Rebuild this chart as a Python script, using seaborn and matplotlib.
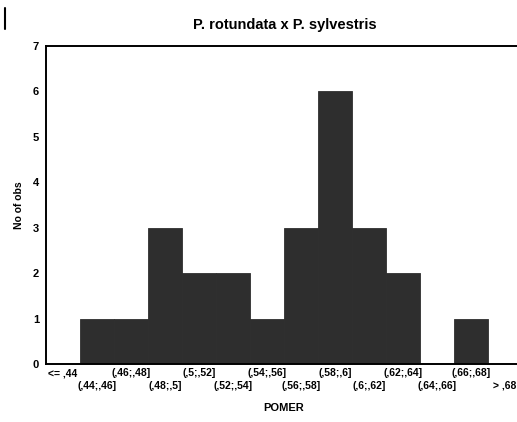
import matplotlib
matplotlib.use("Agg")
import matplotlib.pyplot as plt
import seaborn as sns
import pandas as pd

categories = ["<= ,44", "(,44;,46]", "(,46;,48]", "(,48;,5]", "(,5;,52]", "(,52;,54]",
              "(,54;,56]", "(,56;,58]", "(,58;,6]", "(,6;,62]", "(,62;,64]", "(,64;,66]",
              "(,66;,68]", "> ,68"]
counts = [0, 1, 1, 3, 2, 2, 1, 3, 6, 3, 2, 0, 1, 0]
y_ticks = [0, 1, 2, 3, 4, 5, 6, 7]

sns.set_theme(style="white")
font = ["Liberation Sans Narrow", "Liberation Sans", "DejaVu Sans"]
plt.rcParams["font.family"] = font
plt.rcParams["text.color"] = "black"
plt.rcParams["axes.labelcolor"] = "black"
plt.rcParams["xtick.color"] = "black"
plt.rcParams["ytick.color"] = "black"

df = pd.DataFrame({"cat": categories, "n": counts})

fig = plt.figure(figsize=(5.17, 4.22), dpi=100)
W, H = 517, 422
left, right, top, bottom = 46, 46 + 34 * 14, 46, 364
ax = fig.add_axes([left / W, 1 - bottom / H, (right - left) / W, (bottom - top) / H])

sns.barplot(data=df, x="cat", y="n", order=categories, color="#2e2e2e",
            saturation=1, width=1.0, edgecolor="#2e2e2e", linewidth=0.6, ax=ax)

ax.set_xlim(-0.5, len(categories) - 0.5)
ax.set_ylim(0, 7)
ax.set_yticks(y_ticks)
ax.set_yticklabels([str(v) for v in y_ticks], fontsize=8, fontweight="bold")
ax.set_xticks(range(len(categories)))
ax.set_xticklabels(categories, fontsize=7.5, fontweight="bold")
for i, t in enumerate(ax.xaxis.get_major_ticks()):
    t.set_pad(3 if i % 2 == 0 else 12)
ax.tick_params(axis="x", length=0)
ax.tick_params(axis="y", length=0, pad=5)

for s in ax.spines.values():
    s.set_visible(True)
    s.set_color("black")
    s.set_linewidth(1.4)

ax.set_xlabel("POMER", fontsize=8, fontweight="bold", labelpad=9)
ax.set_ylabel("No of obs", fontsize=7.5, fontweight="bold", labelpad=6)
fig.text(285 / W, 1 - 25 / H, "P. rotundata x P. sylvestris", ha="center", va="center",
         fontsize=10.5, fontweight="bold")
fig.add_artist(plt.Line2D([5 / W, 5 / W], [1 - 8 / H, 1 - 29 / H], color="black", linewidth=1.5))

fig.savefig("out.png", dpi=100)
